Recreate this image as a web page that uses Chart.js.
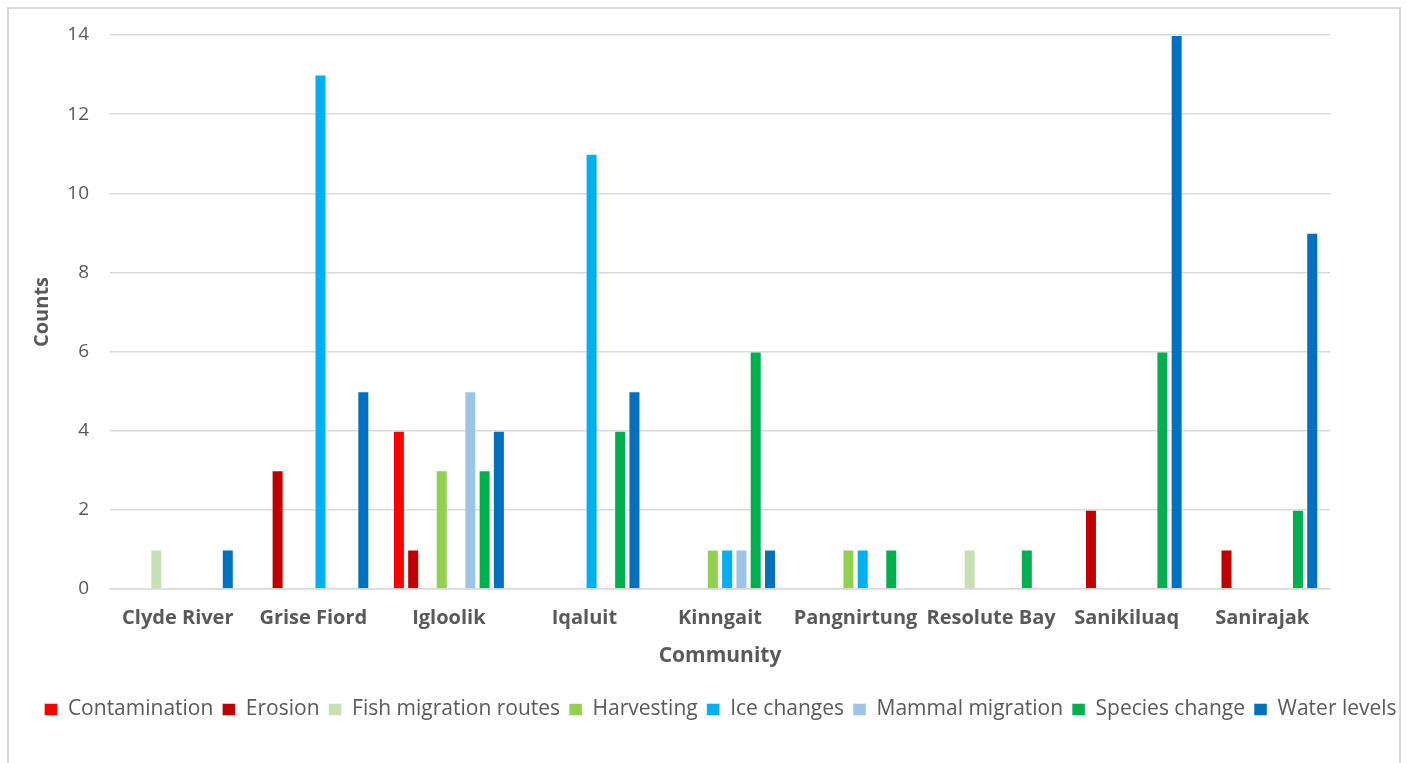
<!DOCTYPE html>
<html>
<head>
<meta charset="utf-8">
<script src="https://cdn.jsdelivr.net/npm/chart.js@4.4.0/dist/chart.umd.min.js"></script>
<style>
  html, body { margin: 0; padding: 0; background: #fff; overflow: hidden; }
  #frame {
    position: absolute; left: 7px; top: 7px; width: 1390px; height: 800px;
    border: 2px solid #d9d9d9; background: #fff;
  }
  #wrap { position: absolute; left: 0; top: 0; width: 1411px; height: 763px; }
</style>
</head>
<body>
<div id="frame"></div>
<div id="wrap"><canvas id="commChart" width="1411" height="763"></canvas></div>
<script>
const communities = ['Clyde River', 'Grise Fiord', 'Igloolik', 'Iqaluit', 'Kinngait',
    'Pangnirtung', 'Resolute Bay', 'Sanikiluaq', 'Sanirajak'];

// null = no bar for that community
const contamination   = [null, null, 4, null, null, null, null, null, null];
const erosion         = [null, 3, 1, null, null, null, null, 2, 1];
const fishMigration   = [1, null, null, null, null, null, 1, null, null];
const harvesting      = [null, null, 3, null, 1, 1, null, null, null];
const iceChanges      = [null, 13, null, 11, 1, 1, null, null, null];
const mammalMigration = [null, null, 5, null, 1, null, null, null, null];
const speciesChange   = [null, null, 3, 4, 6, 1, 1, 6, 2];
const waterLevels     = [1, 5, 4, 5, 1, null, null, 14, 9];

const yTicks = [0, 2, 4, 6, 8, 10, 12, 14];

const textGray = '#595959';
const font = '"Open Sans", sans-serif';

function series(label, data, color) {
    return {
        label: label,
        data: data,
        backgroundColor: color,
        borderColor: 'rgba(255, 255, 255, 0.45)',
        borderWidth: 1,
        categoryPercentage: 0.843,
        barPercentage: 0.84
    };
}

const ctx = document.getElementById('commChart').getContext('2d');

const commChart = new Chart(ctx, {
    type: 'bar',
    data: {
        labels: communities,
        datasets: [
            series('Contamination', contamination, '#FF0000'),
            series('Erosion', erosion, '#C00000'),
            series('Fish migration routes', fishMigration, '#C6E0B4'),
            series('Harvesting', harvesting, '#92D050'),
            series('Ice changes', iceChanges, '#00B0F0'),
            series('Mammal migration', mammalMigration, '#9DC3E6'),
            series('Species change', speciesChange, '#00B050'),
            series('Water levels', waterLevels, '#0070C0')
        ]
    },
    options: {
        responsive: false,
        animation: false,
        layout: {
            padding: { top: 35, left: 30, right: 0, bottom: 33 }
        },
        plugins: {
            legend: {
                display: true,
                position: 'bottom',
                labels: {
                    color: textGray,
                    boxWidth: 13,
                    boxHeight: 12,
                    padding: 9,
                    font: { family: font, size: 21 }
                }
            },
            tooltip: { enabled: false }
        },
        scales: {
            x: {
                grid: { display: false },
                border: { display: true, color: '#d9d9d9', width: 1.5 },
                ticks: {
                    color: textGray,
                    padding: 9,
                    font: { family: font, size: 20, weight: 'bold' }
                },
                title: {
                    display: true,
                    text: 'Community',
                    color: textGray,
                    padding: { top: 0, bottom: 21 },
                    font: { family: font, size: 21, weight: 'bold' }
                },
                afterFit: function (axis) { axis.height = 101; }
            },
            y: {
                min: 0,
                max: 14,
                afterBuildTicks: function (axis) {
                    axis.ticks = yTicks.map(v => ({ value: v }));
                },
                grid: { color: '#d9d9d9', lineWidth: 1.5, drawTicks: false },
                border: { display: false },
                ticks: {
                    color: textGray,
                    padding: 21,
                    font: { family: font, size: 19 }
                },
                title: {
                    display: true,
                    text: 'Counts',
                    color: textGray,
                    padding: { top: 0, bottom: 0 },
                    font: { family: font, size: 20, weight: 'bold' }
                },
                afterFit: function (axis) { axis.width = 80; }
            },
            yRight: {
                position: 'right',
                grid: { display: false },
                border: { display: false },
                ticks: { display: false },
                afterFit: function (axis) { axis.width = 81; }
            }
        }
    }
});
</script>
</body>
</html>
